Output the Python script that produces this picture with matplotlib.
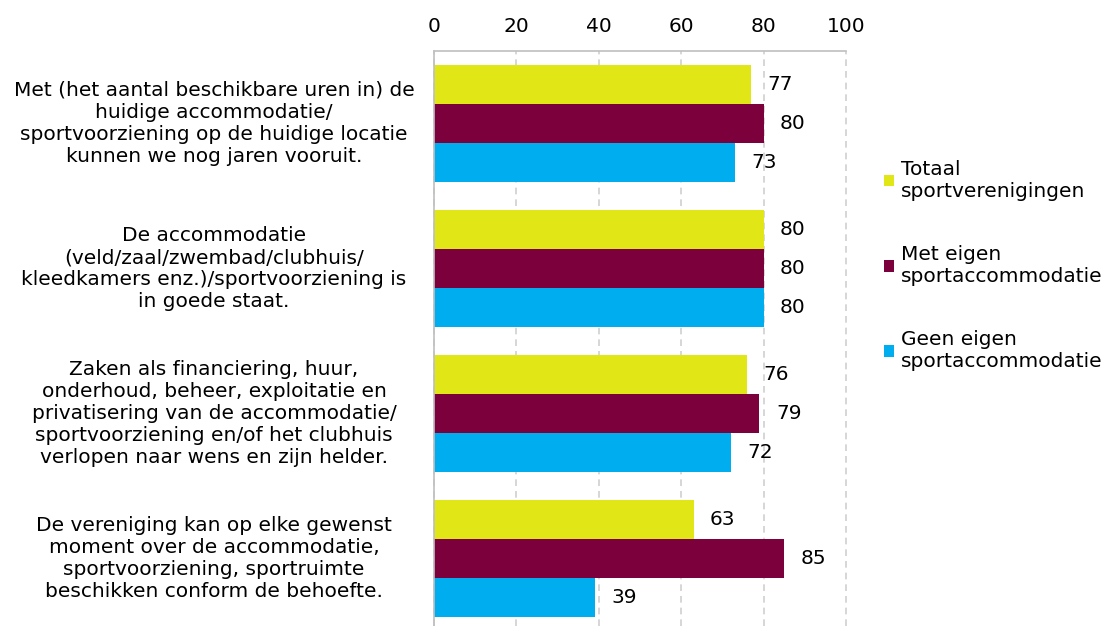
import numpy as np
import matplotlib.pyplot as plt
import matplotlib.transforms as mtransforms

# Data
stellingen = [
    "Met (het aantal beschikbare uren in) de\nhuidige accommodatie/\nsportvoorziening op de huidige locatie\nkunnen we nog jaren vooruit.",
    "De accommodatie\n(veld/zaal/zwembad/clubhuis/\nkleedkamers enz.)/sportvoorziening is\nin goede staat.",
    "Zaken als financiering, huur,\nonderhoud, beheer, exploitatie en\nprivatisering van de accommodatie/\nsportvoorziening en/of het clubhuis\nverlopen naar wens en zijn helder.",
    "De vereniging kan op elke gewenst\nmoment over de accommodatie,\nsportvoorziening, sportruimte\nbeschikken conform de behoefte.",
]
reeksen = ["Totaal\nsportverenigingen", "Met eigen\nsportaccommodatie", "Geen eigen\nsportaccommodatie"]
totaal = [77, 80, 76, 63]
met_eigen = [80, 80, 79, 85]
geen_eigen = [73, 80, 72, 39]
kleuren = ["#E1E617", "#7B003C", "#00AEEF"]

plt.rcParams['font.family'] = ['DejaVu Sans']
fs = 14.5

fig = plt.figure(figsize=(11.08, 6.26), dpi=100)
ax = fig.add_axes([434 / 1108, 0, 412 / 1108, 1 - 51 / 626])

y = np.arange(len(stellingen))
h = 39 / 145
for i, (waarden, naam, kleur) in enumerate(zip([totaal, met_eigen, geen_eigen], reeksen, kleuren)):
    pos = y + (i - 1) * h
    ax.barh(pos, waarden, height=h, color=kleur, label=naam, zorder=2)
    for p, w in zip(pos, waarden):
        ax.text(w + 4, p, str(w), va="center", ha="left", fontsize=fs)

ax.set_xlim(0, 100)
ax.set_ylim(-0.5 + 575 / 145, -0.5)
ax.xaxis.tick_top()
ax.set_xticks(range(0, 101, 20))
ax.tick_params(axis="x", length=0, labelsize=fs, pad=11)
ax.set_yticks([])
ax.grid(axis="x", color="#CFCFCF", linestyle=(0, (4, 3)), linewidth=1.2, zorder=0)
for gl in ax.get_xgridlines():
    gl.set_clip_on(False)
for s in ["right", "bottom"]:
    ax.spines[s].set_visible(False)
for s in ["top", "left"]:
    ax.spines[s].set_color("#BFBFBF")
    ax.spines[s].set_linewidth(1.2)

trans = mtransforms.blended_transform_factory(ax.transAxes, ax.transData)
for yi, lab in zip(y, stellingen):
    ax.text(-0.534, yi, lab, transform=trans, ha="center", va="center",
            multialignment="center", fontsize=fs, linespacing=1.2, clip_on=False)

ax.legend(loc="upper left", bbox_to_anchor=(1.072, 0.825), frameon=False, fontsize=fs,
          handlelength=0.5, handleheight=0.5, handletextpad=0.35, labelspacing=2.2,
          borderaxespad=0)

fig.savefig("out.png", dpi=100)
